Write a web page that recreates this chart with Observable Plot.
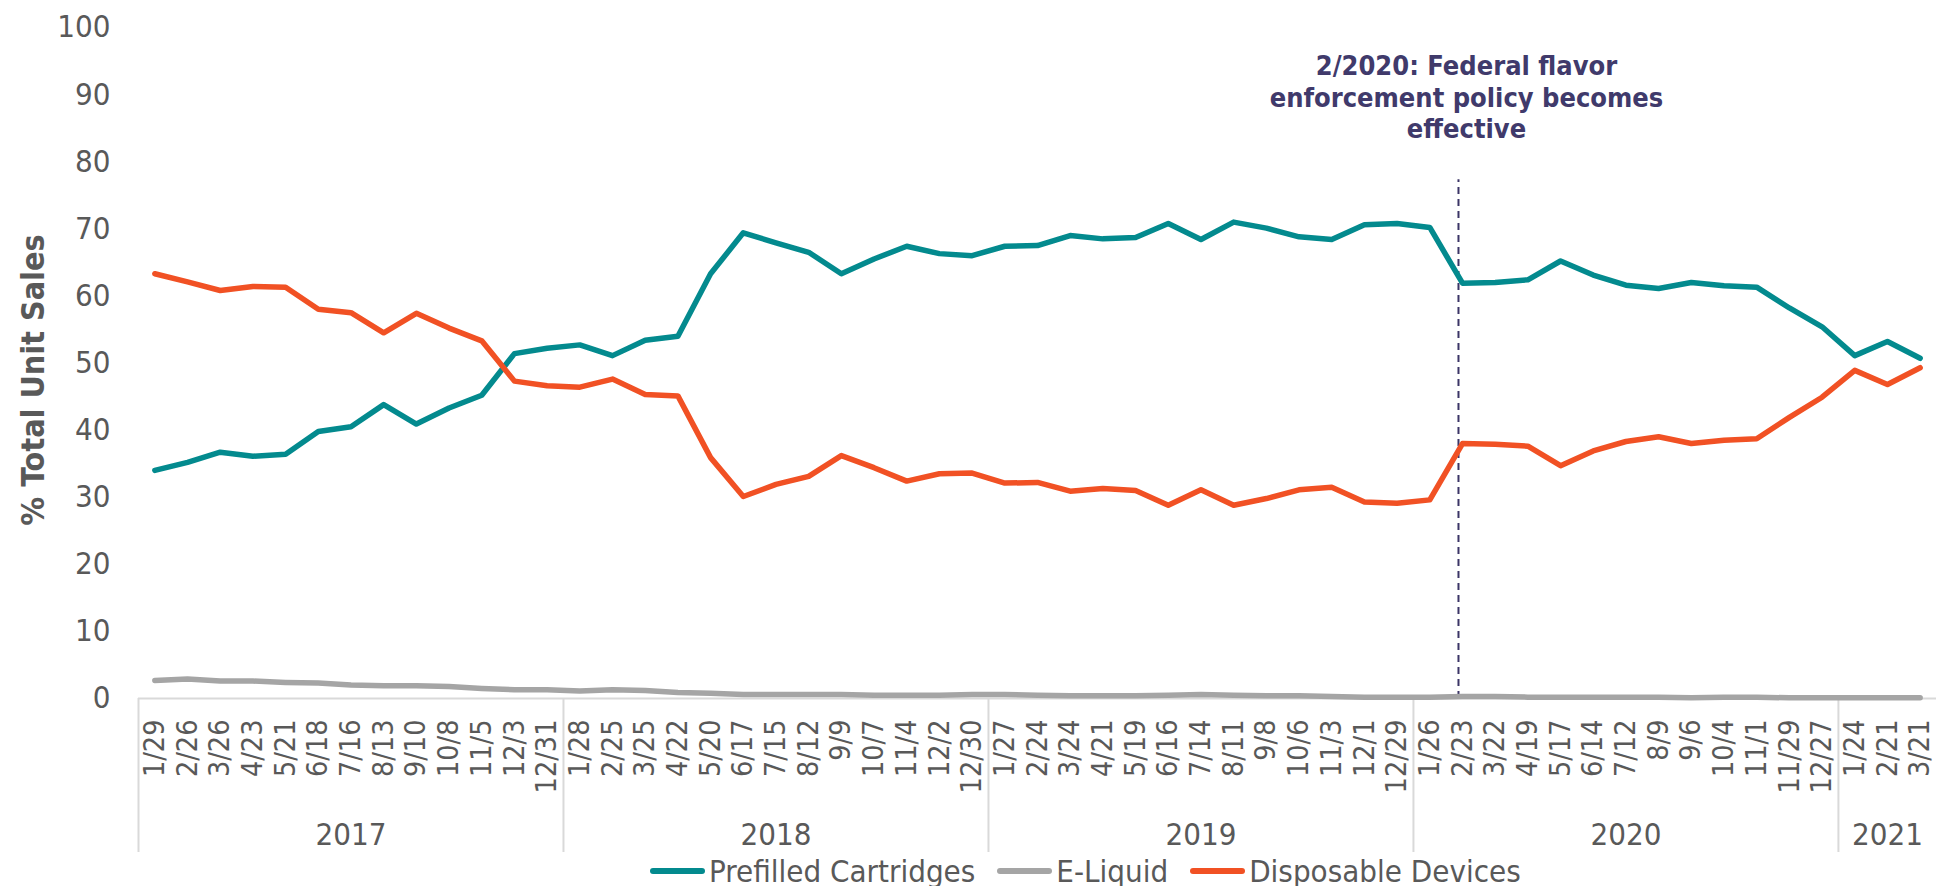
<!DOCTYPE html>
<html>
<head>
<meta charset="utf-8">
<script src="https://cdn.jsdelivr.net/npm/d3@7"></script>
<script src="https://cdn.jsdelivr.net/npm/@observablehq/plot@0.6"></script>
<style>
  html, body { margin: 0; padding: 0; background: #fff; }
  body { width: 1951px; height: 886px; overflow: hidden; font-family: "DejaVu Sans Condensed", "DejaVu Sans", sans-serif; font-stretch: condensed; }
  #chart svg { display: block; }
  #legend { display: flex; align-items: center; height: 30px; margin-left: 650px; color: #595959; font-size: 31px; white-space: nowrap; }
  .item { display: flex; align-items: center; margin-right: 22px; }
  .sw { width: 55px; height: 6px; border-radius: 3px; margin-right: 4px; }
</style>
</head>
<body>
<div id="chart"></div>
<div id="legend"></div>
<script>
// ---- data ----
const years = ["2017", "2018", "2019", "2020", "2021"];
const yearCounts = [13, 13, 13, 13, 3];
const dateLabels = [
  "1/29","2/26","3/26","4/23","5/21","6/18","7/16","8/13","9/10","10/8","11/5","12/3","12/31",
  "1/28","2/25","3/25","4/22","5/20","6/17","7/15","8/12","9/9","10/7","11/4","12/2","12/30",
  "1/27","2/24","3/24","4/21","5/19","6/16","7/14","8/11","9/8","10/6","11/3","12/1","12/29",
  "1/26","2/23","3/22","4/19","5/17","6/14","7/12","8/9","9/6","10/4","11/1","11/29","12/27",
  "1/24","2/21","3/21"
];
const seriesNames = ["Prefilled Cartridges", "E-Liquid", "Disposable Devices"];
const seriesColors = ["#038a8e", "#a5a5a5", "#f15124"];
const prefilled = [
  34.0, 35.2, 36.7, 36.1, 36.4, 39.8, 40.5, 43.8, 40.9, 43.3, 45.2, 51.4, 52.2,
  52.7, 51.1, 53.4, 54.0, 63.3, 69.4, 67.9, 66.5, 63.3, 65.5, 67.4, 66.3, 66.0,
  67.4, 67.5, 69.0, 68.5, 68.7, 70.8, 68.4, 71.0, 70.1, 68.8, 68.4, 70.6, 70.8,
  70.2, 61.9, 62.0, 62.4, 65.2, 63.1, 61.6, 61.1, 62.0, 61.5, 61.3, 58.2, 55.4,
  51.1, 53.2, 50.7
];
const eliquid = [
  2.7, 2.9, 2.6, 2.6, 2.4, 2.3, 2.0, 1.9, 1.9, 1.8, 1.5, 1.3, 1.3,
  1.1, 1.3, 1.2, 0.9, 0.8, 0.6, 0.6, 0.6, 0.6, 0.5, 0.5, 0.5, 0.6,
  0.6, 0.5, 0.4, 0.4, 0.4, 0.5, 0.6, 0.5, 0.4, 0.4, 0.3, 0.2, 0.2,
  0.2, 0.3, 0.3, 0.2, 0.2, 0.2, 0.2, 0.2, 0.1, 0.2, 0.2, 0.1, 0.1,
  0.1, 0.1, 0.1
];
const disposable = [
  63.3, 62.1, 60.8, 61.4, 61.3, 58.0, 57.5, 54.5, 57.4, 55.2, 53.3, 47.3, 46.6,
  46.4, 47.6, 45.3, 45.1, 35.9, 30.1, 31.9, 33.1, 36.2, 34.4, 32.4, 33.5, 33.6,
  32.1, 32.2, 30.9, 31.3, 31.0, 28.8, 31.1, 28.8, 29.8, 31.1, 31.5, 29.3, 29.1,
  29.6, 38.0, 37.9, 37.6, 34.7, 36.9, 38.3, 39.0, 38.0, 38.5, 38.7, 41.9, 44.9,
  48.9, 46.8, 49.3
];
const yTicks = [0, 10, 20, 30, 40, 50, 60, 70, 80, 90, 100];
const policyYear = "2020";
const policyLabel = "2/23";
const policyLineTop = 77.3;
const annotation = "2/2020: Federal flavor\nenforcement policy becomes\neffective";

// ---- derived tables ----
const yearStart = [];
let acc = 0;
for (const c of yearCounts) { yearStart.push(acc); acc += c; }
const n = dateLabels.length;
const idx = d3.range(n);
const separators = yearStart.map(s => s - 0.5);
const yearCenters = yearStart.map((s, j) => s + (yearCounts[j] - 1) / 2);
const py = years.indexOf(policyYear);
const policyIdx = yearStart[py] + dateLabels.slice(yearStart[py]).indexOf(policyLabel);
const seriesValues = [prefilled, eliquid, disposable];
const rows = seriesNames.map((name, s) => idx.map(i => ({i, name, v: seriesValues[s][i]})));

const textColor = "#595959";
const font = "'DejaVu Sans Condensed', 'DejaVu Sans', sans-serif";

const chart = Plot.plot({
  width: 1951,
  height: 856,
  marginLeft: 138,
  marginRight: 15,
  marginTop: 27,
  marginBottom: 158,
  style: {fontFamily: font, background: "#fff", overflow: "visible"},
  x: {type: "linear", domain: [-0.5, n - 0.5]},
  y: {domain: [0, 100]},
  marks: [
    Plot.axisY({ticks: yTicks, tickSize: 0, tickPadding: 28, fontSize: 31, fill: textColor, label: null}),
    Plot.axisX({ticks: idx, tickFormat: i => dateLabels[i], tickRotate: -90, tickSize: 0, tickPadding: 21,
                fontSize: 28.5, fill: textColor, label: null}),
    Plot.axisX({ticks: separators, tickFormat: () => "", tickSize: 154, stroke: "#d9d9d9", strokeWidth: 2, label: null}),
    Plot.axisX({ticks: yearCenters, tickFormat: d => years[yearCenters.indexOf(d)], tickSize: 0, tickPadding: 124,
                fontSize: 31, fill: textColor, label: null}),
    Plot.text(["% Total Unit Sales"], {frameAnchor: "left", rotate: -90, dx: -105, dy: 17,
      textAnchor: "middle", lineAnchor: "middle", fontSize: 32, fontWeight: "bold", fill: textColor}),
    Plot.ruleY([0], {stroke: "#d9d9d9", strokeWidth: 2}),
    Plot.ruleX([policyIdx], {y1: 0, y2: policyLineTop, stroke: "#3b3566", strokeWidth: 2, strokeDasharray: "7,5", dx: -4}),
    ...rows.map((r, s) => Plot.lineY(r, {x: "i", y: "v", stroke: seriesColors[s], strokeWidth: 5.5,
      strokeLinecap: "round", strokeLinejoin: "round"})),
    Plot.text([annotation], {x: () => policyIdx, frameAnchor: "top", lineAnchor: "top", dy: 25, dx: 4,
      fontSize: 27, fontWeight: "bold", fill: "#403a6b", lineHeight: 1.17, textAnchor: "middle"})
  ]
});
document.getElementById("chart").appendChild(chart);

const legend = document.getElementById("legend");
seriesNames.forEach((name, s) => {
  const item = document.createElement("div");
  item.className = "item";
  const sw = document.createElement("div");
  sw.className = "sw";
  sw.style.background = seriesColors[s];
  const t = document.createElement("span");
  t.textContent = name;
  item.appendChild(sw);
  item.appendChild(t);
  legend.appendChild(item);
});
</script>
</body>
</html>
